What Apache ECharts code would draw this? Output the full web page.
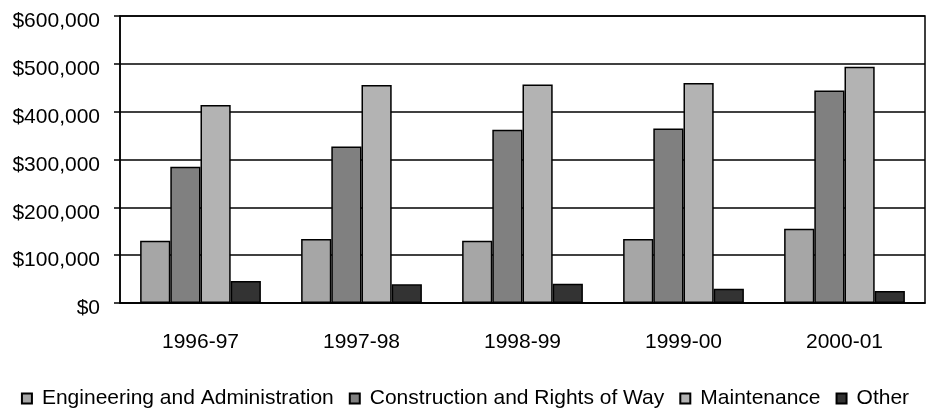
<!DOCTYPE html>
<html>
<head>
<meta charset="utf-8">
<script src="https://cdn.jsdelivr.net/npm/echarts@6/dist/echarts.min.js"></script>
<style>
  html, body { margin: 0; padding: 0; background: #fff; }
  #chart { width: 930px; height: 409px; }
</style>
</head>
<body>
<div id="chart"></div>
<script>
const years = ['1996-97', '1997-98', '1998-99', '1999-00', '2000-01']
const engineering = [130000, 134000, 130000, 134000, 155000]
const construction = [285000, 327000, 362000, 365000, 444000]
const maintenance = [414000, 456000, 457000, 460000, 494000]
const other = [46000, 39000, 40000, 30000, 25000]

const names = ['Engineering and Administration', 'Construction and Rights of Way', 'Maintenance', 'Other']
const colors = ['#a6a6a6', '#808080', '#b3b3b3', '#333333']
const values = [engineering, construction, maintenance, other]

const font = 'Liberation Sans, Arial, sans-serif'

const myChart = echarts.init(document.getElementById('chart'), null, { renderer: 'canvas' })
myChart.setOption({
  animation: false,
  textStyle: { fontFamily: font },
  grid: {
    left: 120,
    right: 5,
    top: 16,
    bottom: 106,
    show: true,
    borderColor: '#000',
    borderWidth: 1.5,
  },
  legend: {
    top: 388,
    left: 'center',
    padding: 0,
    itemWidth: 10,
    itemHeight: 10,
    itemGap: 15,
    icon: 'rect',
    textStyle: { fontSize: 21, color: '#000', fontFamily: font, padding: [0, 0, 0, 5] },
    data: names,
  },
  xAxis: {
    type: 'category',
    data: years,
    axisTick: { show: false },
    axisLine: { lineStyle: { color: '#000', width: 1.5 } },
    axisLabel: { color: '#000', fontSize: 21, margin: 29 },
  },
  yAxis: {
    type: 'value',
    min: 0,
    max: 600000,
    interval: 100000,
    axisLine: { show: true, lineStyle: { color: '#000', width: 1.5 } },
    axisTick: { show: true, length: 6, lineStyle: { color: '#000', width: 1.5 } },
    splitLine: { lineStyle: { color: '#000', width: 1.5 } },
    axisLabel: {
      color: '#000',
      fontSize: 21,
      margin: 20,
      verticalAlign: 'top',
      lineHeight: 11,
      formatter: v => '$' + v.toLocaleString('en-US'),
    },
  },
  series: names.map((n, i) => ({
    name: n,
    type: 'bar',
    data: values[i],
    barGap: '0%',
    barCategoryGap: '25%',
    itemStyle: { color: colors[i], borderColor: '#000', borderWidth: 1.5 },
  })),
})
</script>
</body>
</html>
